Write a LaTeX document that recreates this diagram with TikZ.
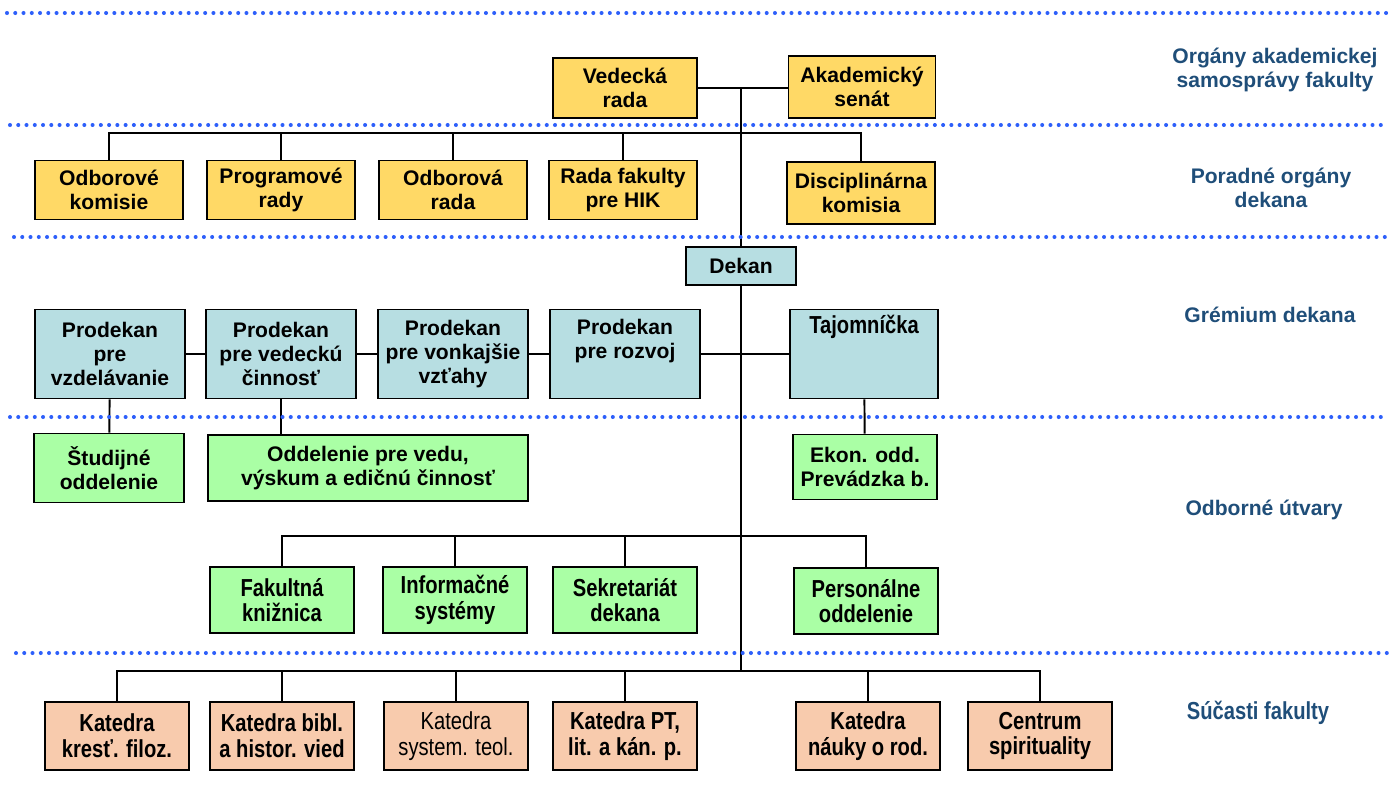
\documentclass[tikz,border=0pt]{standalone}
\usepackage{fontspec}
\setmainfont{Liberation Sans}
\newfontfamily\narrowfont[FakeStretch=0.82]{Liberation Sans}
\usepackage{tikz}
\usetikzlibrary{positioning}
\definecolor{boxyellow}{RGB}{255,217,102}
\definecolor{boxblue}{RGB}{183,222,226}
\definecolor{boxgreen}{RGB}{170,255,165}
\definecolor{boxorange}{RGB}{248,203,173}
\definecolor{levelblue}{RGB}{31,78,121}
\definecolor{dotblue}{RGB}{45,95,250}

\begin{document}
\begin{tikzpicture}[
    x=0.02cm, y=-0.02cm,
    unit/.style={
		rectangle,
		draw=black,
		line width=1.1pt,
		align=center,
		inner sep=1pt,
		font=\bfseries\fontsize{12}{13.6}\selectfont,
		minimum width=2.96cm,
		minimum height=1.18cm
	},
	organ/.style={unit, fill=boxyellow},
	grem/.style={unit, fill=boxblue, minimum width=3cm, minimum height=1.78cm},
	utvar/.style={unit, fill=boxgreen, minimum width=2.88cm, minimum height=1.32cm},
	katedra/.style={unit, fill=boxorange, minimum width=2.88cm, minimum height=1.36cm},
	narrow/.style={font=\narrowfont\bfseries\fontsize{14}{14.6}\selectfont},
	thin/.style={font=\narrowfont\fontsize{14}{14.6}\selectfont},
	level/.style={text=levelblue, align=center, font=\bfseries\fontsize{12}{13.6}\selectfont},
	sep/.style={dotblue, line width=2.3pt, line cap=round, dash pattern=on 0pt off 4.7pt},
	link/.style={line width=1.1pt}
  ]
  \useasboundingbox (0,0) rectangle (1389,798);

  % academic self-government
  \node [organ, minimum width=2.88cm, minimum height=1.2cm] (vrada) at (625,88) {Vedecká\\rada};
  \node [organ, minimum width=2.94cm, minimum height=1.24cm] (senat) at (862,87) {Akademický\\senát};

  % advisory bodies
  \node [organ] (odkom) at (109,190) {Odborové\\komisie};
  \node [organ] (prog) at (281,190) {Programové\\rady};
  \node [organ] (odrada) at (453,190) {Odborová\\rada};
  \node [organ] (radahik) at (623,190) {Rada fakulty\\pre HIK};
  \node [organ, minimum height=1.24cm] (disc) at (861,193) {Disciplinárna\\komisia};

  % dean and his board
  \node [grem, minimum width=2.2cm, minimum height=0.76cm] (dekan) at (741,266) {Dekan};
  \node [grem] (pvzd) at (110,354) {Prodekan\\pre\\vzdelávanie};
  \node [grem] (pved) at (281,354) {Prodekan\\pre vedeckú\\činnosť};
  \node [grem] (pvonk) at (453,354) {Prodekan\\pre vonkajšie\\vzťahy};
  \node [grem] (proz) at (625,354) {Prodekan\\pre rozvoj\\\strut};
  \node [grem, narrow, minimum width=2.96cm] (taj) at (864,354) {Tajomníčka\\\strut\\\strut};

  % departments
  \node [utvar, minimum width=3cm, minimum height=1.38cm] (stud) at (109,468) {Študijné\\oddelenie};
  \node [utvar, minimum width=6.4cm] (oddved) at (368,468) {Oddelenie pre vedu,\\výskum a edičnú činnosť};
  \node [utvar, minimum height=1.3cm] (ekon) at (865,467) {Ekon. odd.\\Prevádzka b.};
  \node [utvar, narrow] (kniz) at (282,600) {Fakultná\\knižnica};
  \node [utvar, narrow] (infsys) at (455,600) {Informačné\\systémy};
  \node [utvar, narrow] (sekr) at (625,600) {Sekretariát\\dekana};
  \node [utvar, narrow] (pers) at (866,601) {Personálne\\oddelenie};

  % faculty parts
  \node [katedra, narrow] (kfil) at (117,736) {Katedra\\kresť. filoz.};
  \node [katedra, narrow] (kbib) at (282,736) {Katedra bibl.\\a histor. vied};
  \node [katedra, thin] (ksys) at (456,736) {Katedra\\system. teol.};
  \node [katedra, narrow] (kpt) at (625,736) {Katedra PT,\\lit. a kán. p.};
  \node [katedra, narrow] (knauk) at (868,736) {Katedra\\náuky o rod.};
  \node [katedra, narrow] (csp) at (1040,736) {Centrum\\spirituality};

  % level names on the right
  \node [level] (lorg) at (1275,70) {Orgány akademickej\\samosprávy fakulty};
  \node [level] (lpor) at (1271,188) {Poradné orgány\\dekana};
  \node [level] (lgrem) at (1270,315) {Grémium dekana};
  \node [level] (lodb) at (1264,510) {Odborné útvary};
  \node [level, narrow] (lsuc) at (1258,713) {Súčasti fakulty};

  \coordinate (pbus) at (0,133);
  \coordinate (gbus) at (0,536);
  \coordinate (kbus) at (0,671);

  % the lines
  \draw [link] (vrada.east) -- (vrada.east -| senat.west);
  \draw [link] (vrada.east -| dekan.north) -- (dekan.north);
  \draw [link] (dekan.south) -- (dekan.south |- kbus);

  \draw [link] (odkom.north) |- (disc.north |- pbus) -- (disc.north);
  \foreach \n in {prog, odrada, radahik}
    \draw [link] (\n.north) -- (\n.north |- pbus);

  \foreach \a/\b in {pvzd/pved, pved/pvonk, pvonk/proz, proz/taj}
    \draw [link] (\a) -- (\b);
  \draw [link] (pvzd) -- (stud);
  \draw [link] (pved.south) -- (pved.south |- oddved.north);
  \draw [link] (taj) -- (ekon);

  \draw [link] (kniz.north) |- (pers.north |- gbus) -- (pers.north);
  \foreach \n in {infsys, sekr}
    \draw [link] (\n.north) -- (\n.north |- gbus);

  \draw [link] (kfil.north) |- (csp.north |- kbus) -- (csp.north);
  \foreach \n in {kbib, ksys, kpt, knauk}
    \draw [link] (\n.north) -- (\n.north |- kbus);

  % dotted separators
  \draw [sep] (7,13) -- (1389,13);
  \draw [sep] (10,125) -- (1389,125);
  \draw [sep] (14,237) -- (1389,237);
  \draw [sep] (10,417) -- (1389,417);
  \draw [sep] (16,653) -- (1389,653);

\end{tikzpicture}
\end{document}
